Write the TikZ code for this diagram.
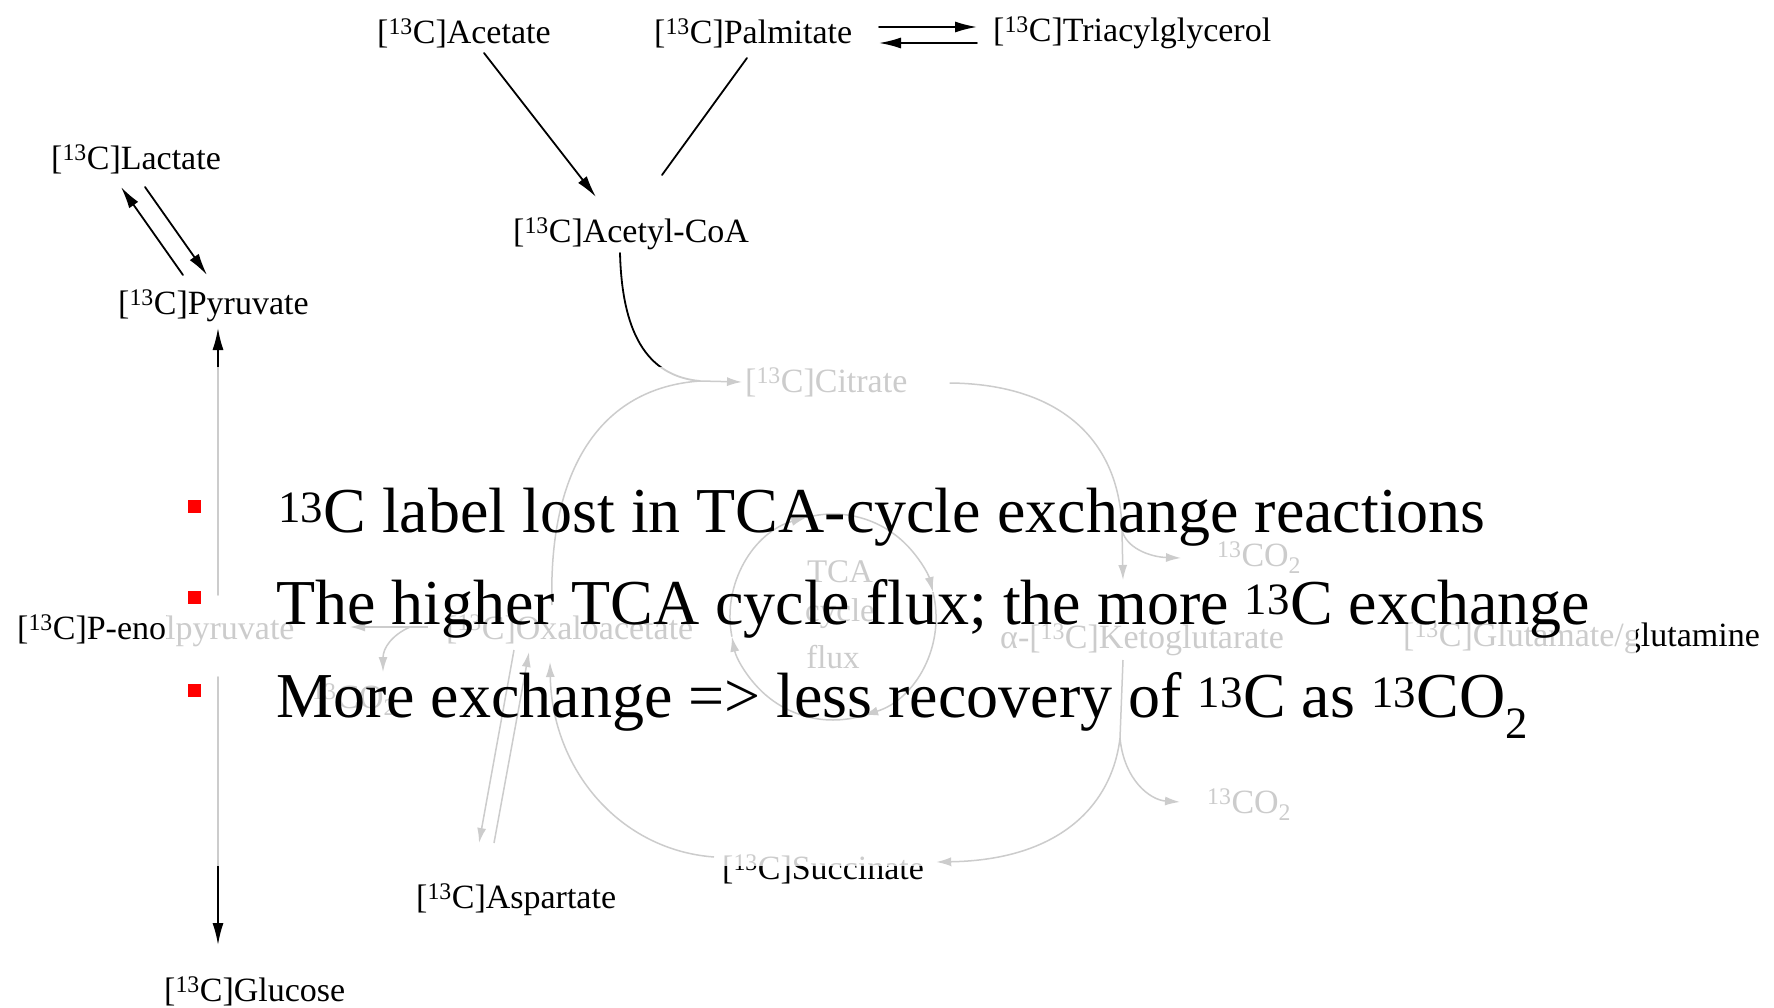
\documentclass[tikz,border=0pt]{standalone}
\usepackage{fontspec}
\setmainfont{Liberation Serif}
\usetikzlibrary{arrows.meta,calc}
\newcommand{\Cl}{[\textsuperscript{13}C]}
\begin{document}
\begin{tikzpicture}[x=1pt,y=-1pt,
  lbl/.style={inner sep=0pt, anchor=west, font=\fontsize{34}{40}\selectfont},
  mid/.style={inner sep=0pt, anchor=center, font=\fontsize{33}{40}\selectfont},
  big/.style={inner sep=0pt, anchor=base west, font=\fontsize{64}{76}\selectfont},
  ln/.style={line width=1.8pt, line cap=round},
  arr/.style={ln, -{Latex[length=22pt,width=11pt]}},
  fln/.style={line width=1.5pt},
  farr/.style={fln, -{Latex[length=15pt,width=9pt]}},
  bul/.style={fill=red, minimum size=13pt, inner sep=0pt}
]
\path[use as bounding box, fill=white] (0,0) rectangle (1774,1008);

% ---- labels ----
\node[lbl] (acet) at (377,33) {\Cl Acetate};
\node[lbl] (palm) at (654,33) {\Cl Palmitate};
\node[lbl] (tag)  at (993,33) {\Cl Triacylglycerol};
\node[lbl] (lac)  at (51,159) {\Cl Lactate};
\node[lbl] (pyr)  at (118,306) {\Cl Pyruvate};
\node[lbl] (acoa) at (513,234) {\Cl Acetyl-CoA};
\node[lbl] (cit)  at (745,382) {\Cl Citrate};
\node[lbl] (pep)  at (17,631) {\Cl P-enolpyruvate};
\node[lbl] (oaa)  at (446,629) {\Cl Oxaloacetate};
\node[lbl] (akg)  at (1000,640) {α-\Cl Ketoglutarate};
\node[lbl] (glu)  at (1403,638) {\Cl Glutamate/glutamine};
\node[lbl] (co2a) at (1217,558) {\textsuperscript{13}CO\textsubscript{2}};
\node[lbl] (co2b) at (1207,805) {\textsuperscript{13}CO\textsubscript{2}};
\node[lbl] (co2c) at (312,700) {\textsuperscript{13}CO\textsubscript{2}};
\node[lbl] (suc)  at (722,869) {\Cl Succinate};
\node[lbl] (asp)  at (416,900) {\Cl Aspartate};
\node[lbl] (glc)  at (164,991) {\Cl Glucose};
\node[mid] (tca1) at (840,572) {TCA};
\node[mid] (tca2) at (840,614) {cycle};
\node[mid] (tca3) at (833,657) {flux};

% ---- upper connectors ----
\draw[arr] ($(acet.west)+(107,20)$) -- ($(acoa.west)+(83,-37)$);
\draw[ln]  ($(palm.west)+(93,25)$) -- ($(acoa.west)+(149,-59)$);
\draw[arr] ($(palm.west)+(225,-6)$) -- ($(tag.west)+(-16,-6)$);
\draw[arr] ($(tag.west)+(-16,10)$) -- ($(palm.west)+(225,10)$);
\draw[arr] ($(pyr.west)+(65,-31)$) -- ($(lac.west)+(70,28)$);
\draw[arr] ($(lac.west)+(94,28)$) -- ($(pyr.west)+(89,-31)$);
\draw[arr] ($(pep.west)+(201,-36)$) -- ($(pyr.west)+(100,22)$);
\draw[arr] ($(pep.west)+(201,46)$) -- ($(glc.west)+(54,-46)$);

% ---- TCA cycle ----
\coordinate (jn) at (700,381);
\coordinate (rb) at (1122,530);
\coordinate (lb) at (1120,738);
\draw[ln] ($(acoa.west)+(107,19)$) .. controls (622,330) and (645,376) .. (jn);
\draw[fln] ($(oaa.west)+(106,-24)$) .. controls (548,470) and (600,388) .. (jn);
\draw[farr] (jn) -- ($(cit.west)+(-3,0)$);
\draw[fln] ($(cit.east)+(42,1)$) .. controls (1060,384) and (1120,440) .. (rb);
\draw[farr] (rb) -- ($(akg.west)+(123,-60)$);
\draw[farr] (rb) .. controls (1126,548) and (1150,557) .. ($(co2a.west)+(-36,0)$);
\draw[fln] ($(akg.west)+(123,20)$) -- (lb);
\draw[farr] (lb) .. controls (1124,780) and (1150,800) .. ($(co2b.west)+(-27,-3)$);
\draw[farr] (lb) .. controls (1112,805) and (1060,860) .. ($(suc.east)+(12,-7)$);
\draw[farr] ($(suc.west)+(-8,-12)$) .. controls (620,850) and (552,770) .. ($(oaa.west)+(104,33)$);
\draw[farr] ($(oaa.west)+(68,21)$) -- ($(asp.west)+(63,-57)$);
\draw[farr] ($(asp.west)+(78,-57)$) -- ($(oaa.west)+(83,23)$);
\draw[farr] ($(oaa.west)+(-18,-2)$) -- ($(pep.west)+(333,-4)$);
\draw[farr] ($(oaa.west)+(-36,-2)$) .. controls (392,635) and (383,648) .. ($(co2c.west)+(71,-28)$);
\draw[farr] (833,617) ++(-105:103) arc[start angle=-105, end angle=-14, radius=103];
\draw[farr] (833,617) ++(-14:103) arc[start angle=-14, end angle=73, radius=103];
\draw[farr] (833,617) ++(73:103) arc[start angle=73, end angle=169, radius=103];
\draw[farr] (833,617) ++(169:103) arc[start angle=169, end angle=255, radius=103];

% ---- fading overlay ----
\fill[white, fill opacity=0.8] (167,367) rectangle (1636,866);

% ---- bullet text ----
\node[bul] (b1) at (194,506) {};
\node[bul] (b2) at (194,597) {};
\node[bul] (b3) at (194,690) {};
\node[big] (t1) at (278,532) {\textsuperscript{13}C label lost in TCA-cycle exchange reactions};
\node[big] (t2) at (276,624) {The higher TCA cycle flux; the more \textsuperscript{13}C exchange};
\node[big] (t3) at (276,717) {More exchange => less recovery of \textsuperscript{13}C as \textsuperscript{13}CO\textsubscript{2}};
\end{tikzpicture}
\end{document}
